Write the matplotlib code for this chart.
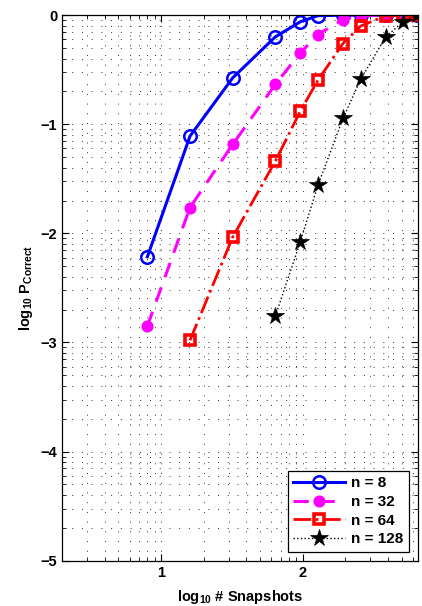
import numpy as np
import matplotlib
matplotlib.use('Agg')
import matplotlib.pyplot as plt
from matplotlib.ticker import FixedLocator, LogLocator, NullFormatter

plt.rcParams['font.family'] = ['Liberation Sans', 'DejaVu Sans']
plt.rcParams['font.weight'] = 'bold'
plt.rcParams['mathtext.fontset'] = 'custom'
plt.rcParams['mathtext.rm'] = 'Liberation Sans:bold'
plt.rcParams['mathtext.bf'] = 'Liberation Sans:bold'
plt.rcParams['mathtext.default'] = 'rm'

# number of snapshots
snaps = np.array([8, 16, 32, 64, 96, 128, 192, 256, 384, 512, 640])

# log10 of probability of correct detection, one list per n
logp_8 = [-2.215, -1.109, -0.575, -0.199, -0.061, -0.005, 0, 0, 0, 0, 0]
logp_32 = [-2.85, -1.763, -1.185, -0.635, -0.345, -0.178, -0.04, -0.005, 0, 0, 0]
logp_64 = [-2.98, -2.035, -1.338, -0.88, -0.596, -0.26, -0.1, -0.005, 0, 0]
logp_128 = [-2.76, -2.078, -1.558, -0.947, -0.589, -0.2, -0.06, 0.0]

fs = 10.5

fig = plt.figure(figsize=(4.22, 6.06), dpi=100)
ax = fig.add_axes([0.147, 0.0748, 0.8435, 0.9002])

ax.loglog(snaps, 10**np.array(logp_8), '-o', color='#0000ff', lw=2.2,
          ms=9, mfc='none', mew=1.8, label='n = 8')
ax.loglog(snaps, 10**np.array(logp_32), '--o', color='#ff00ff', lw=2.2,
          ms=7.5, mfc='#ff00ff', mew=1.2, label='n = 32', dashes=(5, 3.5))
ax.loglog(snaps[1:], 10**np.array(logp_64), '-.s', color='#ff0000', lw=2.0,
          ms=7.5, mfc='none', mew=2.6, label='n = 64')
ax.loglog(snaps[3:], 10**np.array(logp_128), ':*', color='k', lw=1.0,
          ms=13, mfc='k', mew=0.5, label='n = 128')

ax.set_xlim(2, 650)
ax.set_ylim(1e-5, 1)

ax.xaxis.set_major_locator(FixedLocator([10, 100]))
ax.set_xticklabels(['1', '2'])
ax.xaxis.set_minor_locator(LogLocator(base=10, subs=np.arange(2, 10)))
ax.xaxis.set_minor_formatter(NullFormatter())
ax.yaxis.set_major_locator(FixedLocator([1e-5, 1e-4, 1e-3, 1e-2, 1e-1, 1]))
ax.set_yticklabels(['\u22125', '\u22124', '\u22123', '\u22122', '\u22121', '0'])
ax.yaxis.set_minor_locator(LogLocator(base=10, subs=np.arange(2, 10)))
ax.yaxis.set_minor_formatter(NullFormatter())

ax.tick_params(which='both', direction='in', top=True, right=True,
               labelsize=fs)
ax.tick_params(which='major', length=5, width=0.8)
ax.tick_params(which='minor', length=3, width=0.6)
for s in ax.spines.values():
    s.set_linewidth(0.9)

ax.grid(True, which='both', color='0.2', linestyle=(0, (1, 9)), linewidth=0.7)

ax.set_xlabel('log$_{10}$ # Snapshots', fontsize=fs, fontweight='bold', labelpad=6)
ax.set_ylabel('log$_{10}$ P$_{Correct}$', fontsize=fs, fontweight='bold', labelpad=4)

leg = ax.legend(loc='lower right', fontsize=11, handlelength=3.4,
                fancybox=False, framealpha=1, edgecolor='k',
                borderaxespad=0.6, labelspacing=0.3, handletextpad=0.4,
                borderpad=0.35)
leg.get_frame().set_linewidth(0.9)
for t in leg.get_texts():
    t.set_fontweight('bold')

fig.savefig('out.png', dpi=100)
